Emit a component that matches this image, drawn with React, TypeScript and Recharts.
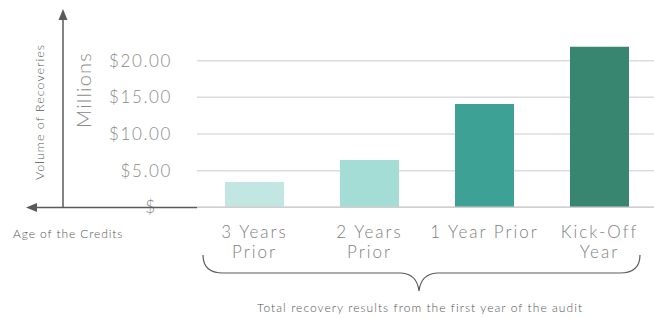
import { BarChart, Bar, XAxis, YAxis, CartesianGrid, Cell } from 'recharts'

const categories = ['3 Years Prior', '2 Years Prior', '1 Year Prior', 'Kick-Off Year']
const tickLines = [['3 Years', 'Prior'], ['2 Years', 'Prior'], ['1 Year Prior'], ['Kick-Off', 'Year']]
const recoveries = [3.45, 6.45, 14.1, 21.9]
const barColors = ['#c2e7e2', '#a4ddd5', '#3ea195', '#388570']
const yTicks = [0, 5, 10, 15, 20]

const dados = categories.map((cat, i) => ({ cat, valor: recoveries[i] }))

const FONT = 'Lato, "Open Sans", sans-serif'

function YTick({ x, y, payload }: any) {
  const v = payload.value as number
  if (v === 0) {
    return (
      <text x={x - 17} y={y} dy={6} textAnchor="end" fontSize={17} fill="#8a8a8a" fontFamily={FONT} fontWeight={300}>
        $
      </text>
    )
  }
  return (
    <text x={x} y={y} dy={6} textAnchor="end" fontSize={17} fill="#8a8a8a" fontFamily={FONT} fontWeight={300} letterSpacing={1.6}>
      ${v.toFixed(2)}
    </text>
  )
}

function XTick({ x, y, index }: any) {
  const linhas = tickLines[index] || []
  return (
    <text x={x} y={y} textAnchor="middle" fontSize={17} fill="#808080" fontFamily={FONT} fontWeight={300} letterSpacing={2}>
      {linhas.map((l: string, i: number) => (
        <tspan key={i} x={x} dy={i === 0 ? 30.4 : 20.5}>
          {l}
        </tspan>
      ))}
    </text>
  )
}

export default function App() {
  return (
    <div style={{ position: 'absolute', left: 0, top: 0, width: 654, height: 318, overflow: 'hidden', background: '#fff' }}>
      <BarChart
        width={660}
        height={318}
        data={dados}
        margin={{ top: 31.4, right: 3, bottom: 0, left: 0 }}
        barSize={59}
      >
        <CartesianGrid vertical={false} horizontalValues={yTicks} syncWithTicks stroke="#dcdcdc" strokeWidth={1.5} />
        <XAxis
          dataKey="cat"
          axisLine={{ stroke: '#cfcfcf', strokeWidth: 1.5 }}
          tickLine={false}
          tick={<XTick />}
          interval={0}
          height={110.7}
          tickSize={0}
          tickMargin={0}
        />
        <YAxis
          domain={[0, 24]}
          ticks={yTicks}
          interval={0}
          width={197}
          axisLine={false}
          tickLine={false}
          tickSize={6}
          tickMargin={19}
          tick={<YTick />}
        />
        <Bar dataKey="valor" isAnimationActive={false}>
          {dados.map((d, i) => (
            <Cell key={d.cat} fill={barColors[i]} />
          ))}
        </Bar>
      </BarChart>
      <svg width={654} height={318} style={{ position: 'absolute', left: 0, top: 0, pointerEvents: 'none' }}>
        <line x1={63} y1={207.5} x2={63} y2={18} stroke="#5a5a5a" strokeWidth={1.5} />
        <polygon points="63,9 58.5,20 67.5,20" fill="#5a5a5a" />
        <line x1={197} y1={207.5} x2={34} y2={207.5} stroke="#5a5a5a" strokeWidth={1.5} />
        <polygon points="26,207.5 37,203 37,212" fill="#5a5a5a" />
        <text
          transform="translate(44,112) rotate(-90)"
          textAnchor="middle"
          fontSize={12.5}
          fill="#555"
          fontFamily={FONT}
          fontWeight={300}
          letterSpacing={1}
        >
          Volume of Recoveries
        </text>
        <text
          transform="translate(91,90) rotate(-90)"
          textAnchor="middle"
          fontSize={20}
          fill="#8a8a8a"
          fontFamily={FONT}
          fontWeight={300}
          letterSpacing={1.2}
        >
          Millions
        </text>
        <text x={13} y={238} fontSize={12} fill="#555" fontFamily={FONT} fontWeight={300} letterSpacing={0.9}>
          Age of the Credits
        </text>
        <path
          d="M203,255 Q203,273 223,273 L401,273 Q417,274 419,291 Q421,274 437,273 L620,273 Q640,273 640,255"
          fill="none"
          stroke="#5a5a5a"
          strokeWidth={1.2}
        />
        <text x={420} y={312} textAnchor="middle" fontSize={12} fill="#555" fontFamily={FONT} fontWeight={300} letterSpacing={1.05}>
          Total recovery results from the first year of the audit
        </text>
      </svg>
    </div>
  )
}
